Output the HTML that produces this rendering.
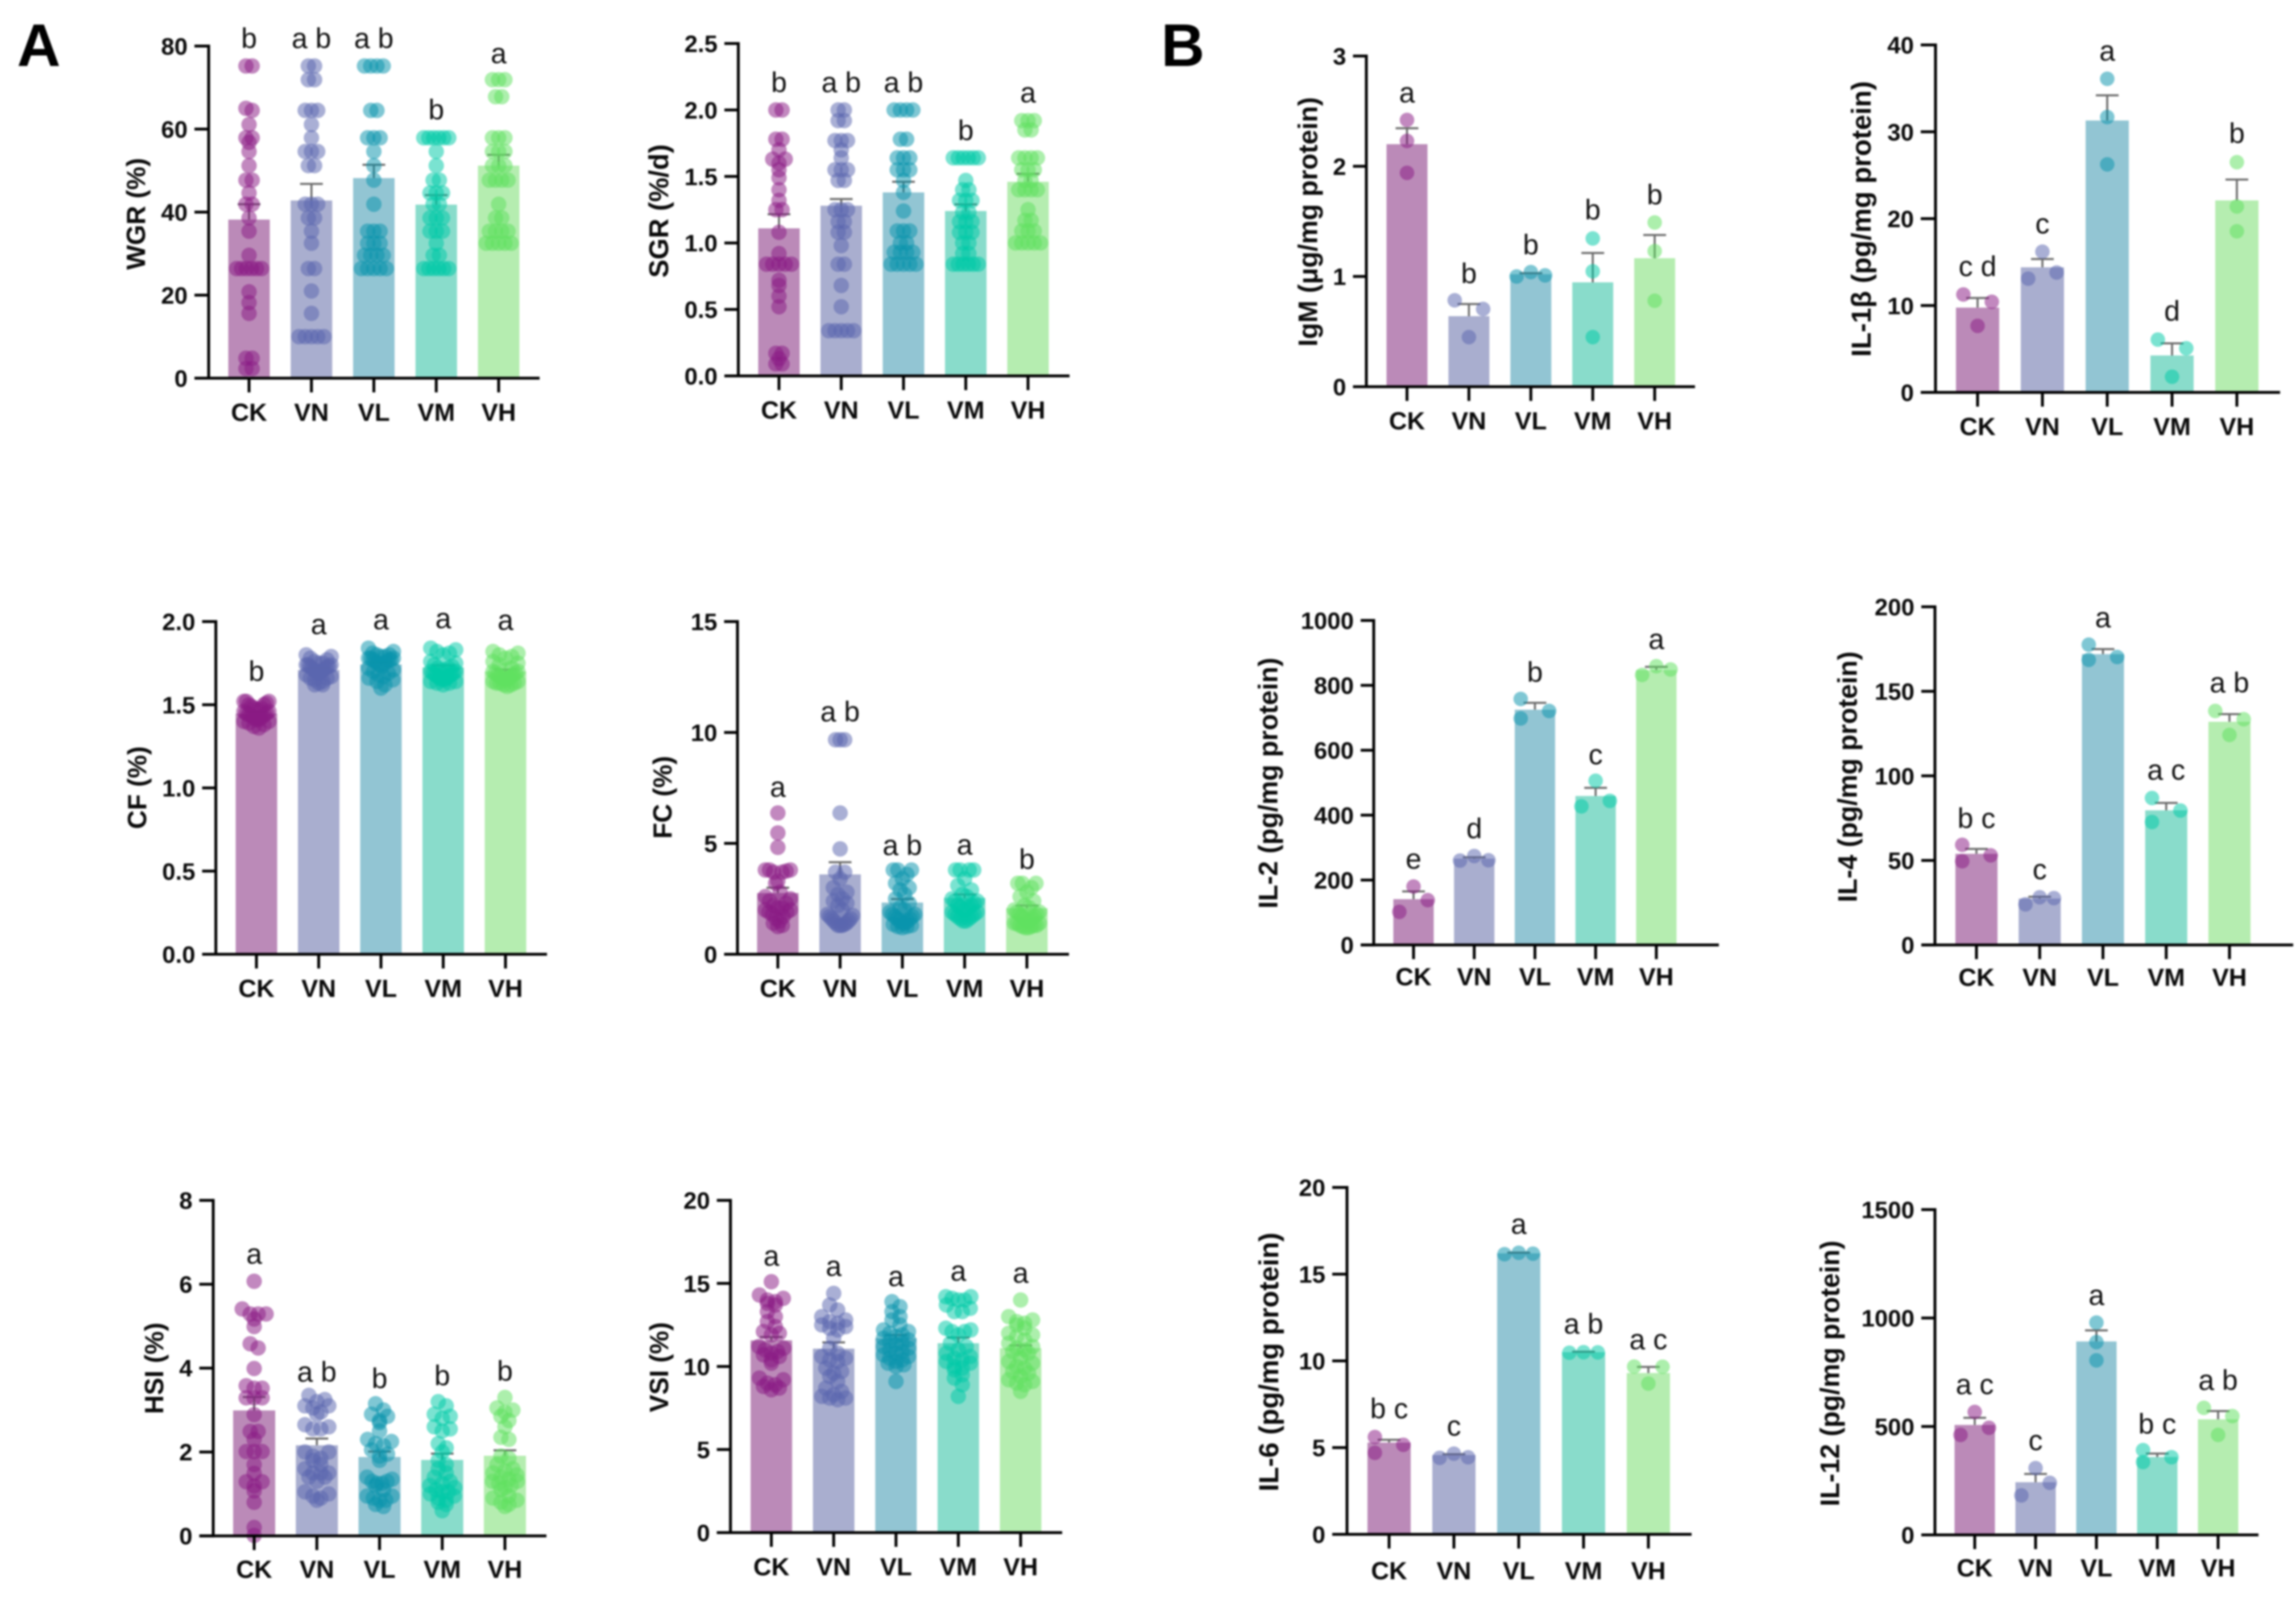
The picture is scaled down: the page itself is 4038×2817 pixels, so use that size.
<!DOCTYPE html>
<html lang="en">
<head>
<meta charset="utf-8">
<title>Growth and immune indices by treatment group</title>
<style>
html,body{margin:0;padding:0;background:#fff;width:4038px;height:2817px;overflow:hidden}
svg{display:block;filter:blur(1.5px)}
text{font-family:"Liberation Sans",Arial,sans-serif}
.tick{font-size:42px;font-weight:700;fill:#0a0a0a;text-anchor:end}
.cat{font-size:44px;font-weight:700;fill:#0a0a0a;text-anchor:middle}
.title{font-weight:700;fill:#0a0a0a;text-anchor:middle}
.letter{font-size:50px;fill:#111;text-anchor:middle}
.panel-label{font-size:106px;font-weight:700;fill:#000}
</style>
</head>
<body>
<svg id="figure" xmlns="http://www.w3.org/2000/svg" width="4038" height="2817" viewBox="0 0 4038 2817">
<rect x="0" y="0" width="4038" height="2817" fill="#ffffff"/>
<text class="panel-label" x="30" y="116">A</text>
<text class="panel-label" x="2042" y="116">B</text>
</svg>
<script>
const groups = ["CK","VN","VL","VM","VH"];

/* WGR */
const wgrTicks = [0,20,40,60,80];
const wgrTickLabels = ["0","20","40","60","80"];
const wgrMeans = [38.2,42.8,48.2,41.8,51.2];
const wgrSem = [3.7,4.0,3.2,2.3,2.6];
const wgrLetters = ["b","a b","a b","b","a"];
const wgrLetterAt = [79.5,79.5,79.5,62.3,75.9];
const wgrDots = [
 [75.2,75.2,65,64.5,61.1,57.9,57.9,56.8,54.6,51.2,47.7,47.7,44.6,41.9,41.9,38.6,35.4,29.6,26.4,26.4,26.4,26.4,26.4,26.4,20.8,18.2,15.6,4.8,4.8,2.3,2.3],
 [75.2,75.2,71.9,71.9,64.5,64.5,64.5,61.1,57.9,54.6,54.6,54.6,51.2,51.2,41.9,41.9,41.9,38.6,38.6,35.4,32.5,26.4,26.4,21,15.6,10,10,10,10,10],
 [75.2,75.2,75.2,75.2,64.5,64.5,57.9,57.9,57.9,54.6,51.2,47.7,41.9,35.4,35.4,35.4,32.5,32.5,32.5,29.6,29.6,29.6,29.6,26.4,26.4,26.4,26.4,26.4],
 [57.9,57.9,57.9,57.9,57.9,57.9,54.6,51.2,47.7,47.7,44.6,44.6,44.6,41.9,41.9,38.6,38.6,38.6,35.4,35.4,35.4,32.5,29.6,29.6,26.4,26.4,26.4,26.4,26.4,26.4],
 [71.9,71.9,71.9,67.8,67.8,57.9,57.9,57.9,54.6,54.6,54.6,51.2,51.2,51.2,47.7,47.7,47.7,47.7,41.9,38.6,38.6,35.4,35.4,35.4,35.4,32.5,32.5,32.5,32.5,32.5]
];

/* SGR */
const sgrTicks = [0,0.5,1,1.5,2,2.5];
const sgrTickLabels = ["0.0","0.5","1.0","1.5","2.0","2.5"];
const sgrMeans = [1.11,1.28,1.38,1.24,1.46];
const sgrSem = [0.106,0.05,0.08,0.05,0.06];
const sgrLetters = ["b","a b","a b","b","a"];
const sgrLetterAt = [2.135,2.135,2.135,1.773,2.057];
const sgrDots = [
 [2.0,2.0,1.78,1.78,1.7,1.63,1.63,1.6,1.55,1.49,1.4,1.32,1.25,1.25,1.08,0.92,0.84,0.84,0.84,0.84,0.84,0.72,0.68,0.6,0.52,0.17,0.17,0.13,0.09,0.09],
 [2.0,2.0,1.92,1.92,1.77,1.77,1.77,1.7,1.64,1.55,1.55,1.55,1.47,1.47,1.25,1.25,1.25,1.16,1.16,1.08,1.08,0.98,0.84,0.84,0.68,0.52,0.34,0.34,0.34,0.34,0.34],
 [2.0,2.0,2.0,2.0,1.78,1.78,1.64,1.64,1.64,1.55,1.55,1.55,1.47,1.38,1.24,1.09,1.09,1.09,1.0,1.0,0.93,0.93,0.93,0.93,0.84,0.84,0.84,0.84,0.84],
 [1.64,1.64,1.64,1.64,1.64,1.64,1.47,1.4,1.4,1.32,1.32,1.32,1.23,1.23,1.16,1.16,1.16,1.08,1.08,1.08,1.0,1.0,0.92,0.92,0.84,0.84,0.84,0.84,0.84,0.84],
 [1.92,1.92,1.92,1.85,1.85,1.64,1.64,1.64,1.64,1.55,1.55,1.55,1.47,1.47,1.4,1.4,1.4,1.4,1.25,1.17,1.17,1.09,1.09,1.09,1.0,1.0,1.0,1.0,1.0]
];

/* CF */
const cfTicks = [0,0.5,1,1.5,2];
const cfTickLabels = ["0.0","0.5","1.0","1.5","2.0"];
const cfMeans = [1.447,1.709,1.742,1.725,1.70];
const cfSem = [0.012,0.012,0.012,0.012,0.012];
const cfLetters = ["b","a","a","a","a"];
const cfLetterAt = [1.643,1.925,1.954,1.96,1.95];
const cfDots = [
 [1.52,1.52,1.52,1.51,1.5,1.5,1.49,1.48,1.48,1.47,1.47,1.46,1.46,1.45,1.45,1.44,1.44,1.44,1.43,1.43,1.42,1.42,1.41,1.41,1.4,1.4,1.39,1.38,1.37,1.36],
 [1.80,1.79,1.78,1.77,1.76,1.75,1.75,1.74,1.74,1.74,1.73,1.73,1.73,1.72,1.72,1.71,1.71,1.70,1.70,1.69,1.69,1.68,1.67,1.66,1.66,1.65,1.64,1.63,1.62,1.62],
 [1.84,1.82,1.81,1.80,1.80,1.79,1.79,1.78,1.78,1.78,1.77,1.77,1.77,1.76,1.76,1.75,1.75,1.74,1.73,1.72,1.71,1.70,1.69,1.68,1.67,1.66,1.65,1.64,1.62,1.60],
 [1.84,1.83,1.82,1.81,1.80,1.76,1.75,1.74,1.73,1.72,1.72,1.71,1.71,1.70,1.70,1.69,1.69,1.68,1.68,1.67,1.67,1.66,1.66,1.65,1.65,1.64,1.64,1.63,1.63,1.62],
 [1.82,1.81,1.80,1.79,1.78,1.76,1.75,1.74,1.72,1.71,1.70,1.70,1.69,1.69,1.68,1.68,1.67,1.67,1.66,1.66,1.65,1.65,1.64,1.64,1.63,1.63,1.63,1.62,1.62,1.61]
];

/* FC */
const fcTicks = [0,5,10,15];
const fcTickLabels = ["0","5","10","15"];
const fcMeans = [2.76,3.6,2.33,2.54,2.08];
const fcSem = [0.24,0.55,0.16,0.16,0.12];
const fcLetters = ["a","a b","a b","a","b"];
const fcLetterAt = [7.1,10.5,4.48,4.5,3.84];
const fcDots = [
 [6.37,5.47,4.82,3.8,3.8,3.8,3.75,3.7,3.7,3.3,3.2,2.8,2.6,2.5,2.4,2.3,2.2,2.1,2.1,2.0,2.0,1.9,1.9,1.8,1.7,1.6,1.5,1.4,1.3,1.25],
 [9.67,9.67,9.67,6.37,4.75,3.7,3.7,3.4,3.0,2.8,2.7,2.5,2.4,2.3,2.2,2.0,1.8,1.75,1.7,1.6,1.6,1.5,1.5,1.4,1.4,1.35,1.3,1.3,1.3],
 [3.8,3.8,3.8,3.6,3.4,3.2,3.0,2.9,2.7,2.5,2.3,2.1,2.0,1.9,1.8,1.8,1.7,1.7,1.6,1.6,1.5,1.5,1.4,1.4,1.35,1.3,1.25,1.25,1.2],
 [3.8,3.8,3.8,3.8,3.4,3.1,2.9,2.7,2.6,2.5,2.4,2.4,2.3,2.2,2.2,2.1,2.1,2.0,2.0,1.9,1.9,1.8,1.8,1.7,1.7,1.6,1.6,1.5,1.5],
 [3.2,3.2,3.2,3.0,2.8,2.6,2.4,2.2,2.1,2.0,1.9,1.9,1.8,1.8,1.7,1.7,1.6,1.6,1.5,1.5,1.4,1.4,1.4,1.3,1.3,1.3,1.25,1.25,1.2,1.2]
];

/* HSI */
const hsiTicks = [0,2,4,6,8];
const hsiTickLabels = ["0","2","4","6","8"];
const hsiMeans = [2.99,2.16,1.88,1.81,1.91];
const hsiSem = [0.32,0.16,0.13,0.15,0.13];
const hsiLetters = ["a","a b","b","b","b"];
const hsiLetterAt = [6.49,3.68,3.52,3.59,3.7];
const hsiDots = [
 [6.07,5.41,5.29,5.29,5.29,5.17,4.99,4.58,4.48,3.99,3.58,3.52,3.52,3.29,3.29,3.29,2.89,2.49,2.49,2.3,2.01,2.01,2.01,1.7,1.49,1.29,1.29,1.19,1.07,0.8,0.2,0.01],
 [3.35,3.25,3.2,3.1,3.1,3.05,2.95,2.9,2.65,2.6,2.55,2.55,2.0,2.0,1.9,1.85,1.8,1.7,1.6,1.5,1.5,1.5,1.4,1.4,1.3,1.05,1.0,0.95,0.9,0.85],
 [3.15,3.0,2.9,2.85,2.75,2.7,2.5,2.3,2.25,2.2,2.15,2.05,1.95,1.9,1.8,1.4,1.35,1.3,1.3,1.25,1.25,1.2,1.1,0.95,0.95,0.9,0.85,0.85,0.75,0.7],
 [3.2,3.1,2.9,2.85,2.8,2.6,2.55,2.5,2.2,2.1,2.0,1.8,1.7,1.6,1.5,1.4,1.3,1.25,1.2,1.15,1.1,1.05,1.05,1.0,0.95,0.9,0.85,0.8,0.75,0.6],
 [3.3,3.05,3.0,2.95,2.85,2.75,2.6,2.35,2.3,1.9,1.85,1.7,1.6,1.55,1.5,1.45,1.4,1.35,1.3,1.3,1.25,1.2,1.15,1.1,0.95,0.9,0.85,0.8,0.75,0.7]
];

/* VSI */
const vsiTicks = [0,5,10,15,20];
const vsiTickLabels = ["0","5","10","15","20"];
const vsiMeans = [11.57,11.07,11.7,11.4,11.1];
const vsiSem = [0.2,0.38,0.2,0.34,0.17];
const vsiLetters = ["a","a","a","a","a"];
const vsiLetterAt = [16.07,15.45,14.83,15.16,15.04];
const vsiDots = [
 [15.1,14.3,14.1,14.0,13.9,13.8,13.7,13.3,13.0,12.7,12.4,12.1,12.0,11.9,11.2,11.1,11.0,10.9,10.8,10.7,10.6,10.4,10.2,9.3,9.2,9.0,8.9,8.8,8.7,8.6],
 [14.4,13.7,13.4,13.0,12.8,12.7,12.6,12.5,12.4,12.3,12.2,11.7,11.1,10.8,10.6,10.5,10.4,10.3,9.9,9.7,9.6,9.4,9.1,8.7,8.5,8.3,8.2,8.1,8.1,8.0],
 [13.9,13.6,13.3,13.0,12.8,12.5,12.2,12.1,12.0,11.9,11.8,11.7,11.6,11.5,11.4,11.3,11.2,11.1,11.0,10.9,10.8,10.7,10.6,10.5,10.4,10.3,10.2,10.1,10.0,9.1],
 [14.2,14.2,14.1,14.0,14.0,13.7,13.5,13.3,13.3,12.3,12.2,12.1,12.1,11.9,11.4,11.2,11.0,10.8,10.6,10.5,10.4,10.3,10.2,10.0,9.9,9.8,9.5,9.3,8.9,8.2],
 [14.0,13.0,12.8,12.7,12.6,12.5,12.3,12.0,11.9,11.8,11.6,11.4,11.2,11.1,11.0,10.9,10.8,10.5,10.3,10.2,10.0,9.9,9.7,9.6,9.4,9.2,9.1,9.0,8.9,8.5]
];

/* IgM */
const igmTicks = [0,1,2,3];
const igmTickLabels = ["0","1","2","3"];
const igmMeans = [2.2,0.64,1.02,0.947,1.166];
const igmSem = [0.145,0.11,0.01,0.266,0.21];
const igmLetters = ["a","b","b","b","b"];
const igmLetterAt = [2.58,0.94,1.2,1.516,1.653];
const igmDots = [[2.42,2.23,1.94],[0.784,0.705,0.45],[1.0,1.04,1.01],[1.345,1.047,0.45],[1.49,1.23,0.78]];

/* IL-1 beta */
const il1Ticks = [0,10,20,30,40];
const il1TickLabels = ["0","10","20","30","40"];
const il1Means = [9.76,14.4,31.3,4.25,22.1];
const il1Sem = [1.11,0.95,2.9,1.4,2.4];
const il1Letters = ["c d","c","a","d","b"];
const il1LetterAt = [13.4,18.3,38.2,8.25,28.7];
const il1Dots = [[11.27,10.43,7.66],[16.2,13.8,13.1],[36.1,31.7,26.25],[6.08,5.08,1.8],[26.5,21.4,18.55]];

/* IL-2 */
const il2Ticks = [0,200,400,600,800,1000];
const il2TickLabels = ["0","200","400","600","800","1000"];
const il2Means = [141,266,725,459,847];
const il2Sem = [24,4,21,25,10];
const il2Letters = ["e","d","b","c","a"];
const il2LetterAt = [235,329,811,557,912];
const il2Dots = [[180,138,102],[260,274,261],[758,721,698],[506,444,427],[832,859,849]];

/* IL-4 */
const il4Ticks = [0,50,100,150,200];
const il4TickLabels = ["0","50","100","150","200"];
const il4Means = [53.9,27.4,172,79.6,132];
const il4Sem = [2.9,1.1,3,4.4,4.5];
const il4Letters = ["b c","c","a","a c","a b"];
const il4LetterAt = [69.2,38.9,187.9,97.8,149.3];
const il4Dots = [[59.2,53,49.5],[24,28.2,27.7],[177.6,170.3,168.6],[86.9,79.5,72.7],[138.4,133.5,124.2]];

/* IL-6 */
const il6Ticks = [0,5,10,15,20];
const il6TickLabels = ["0","5","10","15","20"];
const il6Means = [5.29,4.57,16.2,10.5,9.3];
const il6Sem = [0.16,0.05,0.04,0.03,0.35];
const il6Letters = ["b c","c","a","a b","a c"];
const il6LetterAt = [6.69,5.69,17.32,11.58,10.67];
const il6Dots = [[5.61,5.16,4.7],[4.41,4.65,4.44],[16.15,16.23,16.18],[10.47,10.5,10.49],[9.67,9.66,8.69]];

/* IL-12 */
const il12Ticks = [0,500,1000,1500];
const il12TickLabels = ["0","500","1000","1500"];
const il12Means = [507,243,892,359,533];
const il12Sem = [33,38,51,16,38];
const il12Letters = ["a c","c","a","b c","a b"];
const il12LetterAt = [649,391,1061,467,669];
const il12Dots = [[567,494,461],[308,240,182],[979,889,805],[336,391,358],[586,548,461]];

const barFills = ["#bb8ab8","#a9aecf","#92c5d3","#89dccb","#b5edb0"];
const dotFills = ["#8a1a85","#5a66ae","#0a94ad","#00c9a7","#5fe060"];

const SVG_NS = "http://www.w3.org/2000/svg";
const svg = document.getElementById("figure");

function mk(tag, attrs, parent, txt) {
  const e = document.createElementNS(SVG_NS, tag);
  for (const k in attrs) e.setAttribute(k, attrs[k]);
  if (txt !== undefined) e.textContent = txt;
  parent.appendChild(e);
  return e;
}

/* Bin near-equal values and spread each bin symmetrically, as in a scatter-dot bar plot. */
function swarmOffsets(pxs, binPx, spacing) {
  const order = pxs.map((p, i) => i).sort((a, b) => pxs[a] - pxs[b]);
  const out = new Array(pxs.length).fill(0);
  let start = 0;
  while (start < order.length) {
    let end = start + 1;
    while (end < order.length && pxs[order[end]] - pxs[order[start]] < binPx) end++;
    const n = end - start;
    const half = Math.min(22, (n - 1) / 2 * spacing);
    for (let i = 0; i < n; i++) {
      const slot = i % 2 ? n - 1 - (i >> 1) : (i >> 1);
      out[order[start + i]] = n === 1 ? 0 : -half + slot * (2 * half / (n - 1));
    }
    start = end;
  }
  return out;
}

/* Arrange three replicate points: column when apart, side by side when they would touch. */
function tripleOffsets(pxs, side) {
  const order = pxs.map((p, i) => i).sort((a, b) => pxs[a] - pxs[b]);
  const near = 23;
  const d12 = pxs[order[1]] - pxs[order[0]];
  const d23 = pxs[order[2]] - pxs[order[1]];
  let s;
  if (d12 + d23 < 20) s = [0, 1, -1];
  else if (d12 > near) s = d23 > near ? [0, 0, 0] : [0, 1, -1];
  else s = d23 > near ? [-1, 1, 0] : [-1, 1, -1];
  const out = [];
  order.forEach((idx, i) => { out[idx] = s[i] * side; });
  return out;
}

function drawPanel(p) {
  const g = mk("g", {}, svg);
  
  
  const yMax = p.ticks[p.ticks.length - 1];
  const yScale = v => p.bottom - (v / yMax) * (p.bottom - p.top);
  const xScale = i => p.firstCat + i * p.catStep;

  groups.forEach((name, i) => {
    const key = p.id + '-' + name.toLowerCase();
    const cx = xScale(i);
    const barTop = yScale(p.means[i]);
    const bar = mk("rect", {x: cx - p.barW / 2, y: barTop, width: p.barW, height: p.bottom - barTop, fill: barFills[i]}, g);
    
    

    const errTop = yScale(p.means[i] + p.sem[i]);
    const err = mk("path", {d: "M" + cx + " " + barTop + "V" + errTop + "M" + (cx - 20) + " " + errTop + "H" + (cx + 20), stroke: "#6a6a6a", "stroke-width": 3.5, fill: "none"}, g);
    
    

    const pxs = p.dots[i].map(yScale);
    const offs = p.triple ? tripleOffsets(pxs, 25) : swarmOffsets(pxs, p.bin, p.spacing);
    pxs.forEach((py, j) => {
      const dot = mk("circle", {cx: cx + offs[j], cy: py, r: p.triple ? 12.8 : 13.6, fill: dotFills[i], "fill-opacity": 0.52}, g);
      
      
    });

    const tick = mk("line", {x1: cx, x2: cx, y1: p.bottom, y2: p.bottom + 25, stroke: "#000", "stroke-width": 5}, g);
    
    

    const cat = mk("text", {x: cx, y: p.bottom + (p.catDy || 75), class: "cat"}, g, name);
    
    

    const letter = mk("text", {x: cx, y: yScale(p.letterAt[i]), class: "letter"}, g, p.letters[i]);
    
    
  });

  const yAxis = mk("line", {x1: p.axisX, x2: p.axisX, y1: p.top - 2.5, y2: p.bottom + 2.5, stroke: "#000", "stroke-width": 5}, g);
  
  

  const xAxis = mk("line", {x1: p.tickLeft, x2: p.xEnd, y1: p.bottom, y2: p.bottom, stroke: "#000", "stroke-width": 5}, g);
  
  

  p.ticks.forEach((v, i) => {
    const ty = yScale(v);
    const tick = mk("line", {x1: p.tickLeft, x2: p.axisX, y1: ty, y2: ty, stroke: "#000", "stroke-width": 5}, g);
    
    
    const lab = mk("text", {x: p.tickLeft - 12, y: ty + 15, class: "tick"}, g, p.tickLabels[i]);
    
    
  });

  const titleSize = p.titleSize || 46;
  const title = mk("text", {x: 0, y: 0, class: "title", "font-size": titleSize, transform: "translate(" + (p.titleX + 0.35 * titleSize) + " " + p.titleY + ") rotate(-90)"}, g, p.title);
  
  
}

const panels = [
 {id:"wgr",title:"WGR (%)",axisX:367,top:81,bottom:665,tickLeft:342,xEnd:949,firstCat:438,catStep:109.75,barW:73,titleX:239,titleY:376,bin:8,spacing:11,ticks:wgrTicks,tickLabels:wgrTickLabels,means:wgrMeans,sem:wgrSem,letters:wgrLetters,letterAt:wgrLetterAt,dots:wgrDots},
 {id:"sgr",title:"SGR (%/d)",titleSize:48,axisX:1298.5,top:76.5,bottom:661,tickLeft:1274,xEnd:1881,firstCat:1370,catStep:109.5,barW:73,titleX:1158,titleY:371,bin:8,spacing:11,ticks:sgrTicks,tickLabels:sgrTickLabels,means:sgrMeans,sem:sgrSem,letters:sgrLetters,letterAt:sgrLetterAt,dots:sgrDots},
 {id:"cf",title:"CF (%)",axisX:379.6,top:1093,bottom:1678,tickLeft:355.5,xEnd:962,firstCat:451,catStep:109.5,barW:73,titleX:240.7,titleY:1385,bin:16,spacing:14,ticks:cfTicks,tickLabels:cfTickLabels,means:cfMeans,sem:cfSem,letters:cfLetters,letterAt:cfLetterAt,dots:cfDots},
 {id:"fc",title:"FC (%)",axisX:1297,top:1093,bottom:1678,tickLeft:1273.5,xEnd:1880,firstCat:1368,catStep:109.5,barW:73,titleX:1165,titleY:1402,bin:20,spacing:8,ticks:fcTicks,tickLabels:fcTickLabels,means:fcMeans,sem:fcSem,letters:fcLetters,letterAt:fcLetterAt,dots:fcDots},
 {id:"hsi",title:"HSI (%)",axisX:375,top:2110.7,bottom:2700.7,tickLeft:350.5,xEnd:961,firstCat:447,catStep:110.25,barW:74,titleX:271,titleY:2406,catDy:74,bin:12,spacing:14,ticks:hsiTicks,tickLabels:hsiTickLabels,means:hsiMeans,sem:hsiSem,letters:hsiLetters,letterAt:hsiLetterAt,dots:hsiDots},
 {id:"vsi",title:"VSI (%)",axisX:1284.7,top:2110.7,bottom:2695,tickLeft:1260.7,xEnd:1868,firstCat:1356.6,catStep:109.6,barW:73,titleX:1159,titleY:2404,bin:12,spacing:14,ticks:vsiTicks,tickLabels:vsiTickLabels,means:vsiMeans,sem:vsiSem,letters:vsiLetters,letterAt:vsiLetterAt,dots:vsiDots},
 {id:"igm",title:"IgM (\u03bcg/mg protein)",titleSize:47,triple:true,axisX:2403,top:98.5,bottom:680,tickLeft:2379.5,xEnd:2981,firstCat:2474.5,catStep:108.9,barW:72,titleX:2300,titleY:390,ticks:igmTicks,tickLabels:igmTickLabels,means:igmMeans,sem:igmSem,letters:igmLetters,letterAt:igmLetterAt,dots:igmDots},
 {id:"il-1b",title:"IL-1\u03b2 (pg/mg protein)",titleSize:48.5,triple:true,axisX:3404,top:79,bottom:690,tickLeft:3378,xEnd:4010,firstCat:3478,catStep:114,barW:76,titleX:3273,titleY:385,ticks:il1Ticks,tickLabels:il1TickLabels,means:il1Means,sem:il1Sem,letters:il1Letters,letterAt:il1LetterAt,dots:il1Dots},
 {id:"il-2",title:"IL-2 (pg/mg protein)",titleSize:47,triple:true,axisX:2416,top:1091,bottom:1661.6,tickLeft:2393,xEnd:3023,firstCat:2486,catStep:106.75,barW:71,titleX:2230,titleY:1377,catDy:71,ticks:il2Ticks,tickLabels:il2TickLabels,means:il2Means,sem:il2Sem,letters:il2Letters,letterAt:il2LetterAt,dots:il2Dots},
 {id:"il-4",title:"IL-4 (pg/mg protein)",titleSize:47,triple:true,axisX:3403,top:1067,bottom:1661.6,tickLeft:3379,xEnd:4033,firstCat:3476,catStep:111.25,barW:74,titleX:3249,titleY:1366,catDy:72,ticks:il4Ticks,tickLabels:il4TickLabels,means:il4Means,sem:il4Sem,letters:il4Letters,letterAt:il4LetterAt,dots:il4Dots},
 {id:"il-6",title:"IL-6 (pg/mg protein)",titleSize:48.5,triple:true,axisX:2369,top:2088,bottom:2698,tickLeft:2343,xEnd:2975,firstCat:2443,catStep:114,barW:76,titleX:2231,titleY:2395,catDy:79,ticks:il6Ticks,tickLabels:il6TickLabels,means:il6Means,sem:il6Sem,letters:il6Letters,letterAt:il6LetterAt,dots:il6Dots},
 {id:"il-12",title:"IL-12 (pg/mg protein)",titleSize:47,triple:true,axisX:3403,top:2127,bottom:2699,tickLeft:3379,xEnd:3972,firstCat:3473,catStep:107,barW:71,titleX:3218,titleY:2415,catDy:73,ticks:il12Ticks,tickLabels:il12TickLabels,means:il12Means,sem:il12Sem,letters:il12Letters,letterAt:il12LetterAt,dots:il12Dots}
];

panels.forEach(drawPanel);
</script>
</body>
</html>
